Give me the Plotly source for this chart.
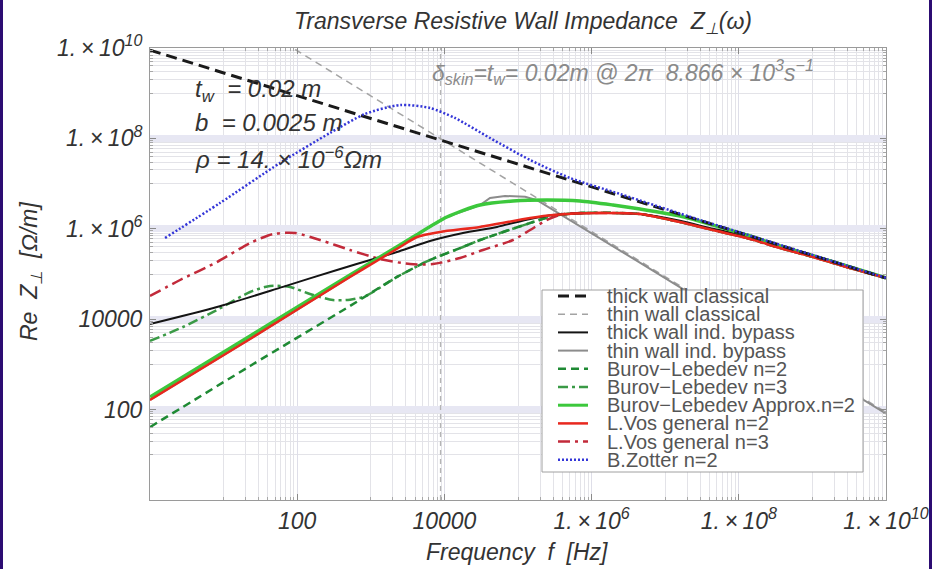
import plotly.graph_objects as go

# ---------------- data ----------------
skin_freq = 8866.0            # Hz, skin depth equals wall thickness
skin_line_z = [1.0, 1e10]

thick_classical_f = [1, 1e2, 1e4, 1e6, 1e8, 1e10]
thick_classical_z = [9.0e9, 8.8e8, 8.6e7, 8.4e6, 8.3e5, 8.1e4]

thin_classical_f = [10, 1e2, 1e4, 1e6, 1e8, 1e10]
thin_classical_z = [8.7e10, 8.7e9, 8.7e7, 8.7e5, 8.7e3, 87]

thick_bypass_f = [1, 8.13, 64, 347, 1214, 2270, 6373, 1.79e4, 5.19e4, 1.46e5, 2.99e5,
                  1.3e6, 4.55e6, 1.59e7, 4.46e7, 1.29e8, 3.63e8, 1.02e9, 3.24e9, 1e10]
thick_bypass_z = [7.8e3, 1.86e4, 5.2e4, 1.23e5, 2.26e5, 3.07e5, 5.37e5, 8.07e5, 1.10e6, 1.65e6, 2.02e6,
                  2.24e6, 2.12e6, 1.5e6, 1.0e6, 6.8e5, 4.2e5, 2.6e5, 1.47e5, 8.2e4]

thin_bypass_f = [1, 22.9, 521, 3742, 1.08e4, 3.05e4, 4.17e4, 6.66e4, 1.25e5, 1.81e5, 4.14e6, 1.42e8, 1e10]
thin_bypass_z = [163, 3.65e3, 8.6e4, 6.59e5, 1.82e6, 3.36e6, 4.8e6, 5.32e6, 5.1e6, 4.3e6, 1.95e5, 5.7e3, 81]

bl2_f = [1, 22.9, 521, 2270, 6373, 1.79e4, 3.05e4, 1.46e5, 2.99e5, 6.95e5, 4.55e6,
         1.59e7, 4.46e7, 1.29e8, 3.63e8, 1.02e9, 3.24e9, 1e10]
bl2_z = [41, 922, 1.96e4, 8.6e4, 2.04e5, 3.96e5, 5.65e5, 1.34e6, 1.92e6, 2.24e6, 2.12e6,
         1.41e6, 9.4e5, 6.26e5, 3.76e5, 2.38e5, 1.36e5, 8.2e4]

bl3_f = [1, 2.81, 8.13, 22.9, 42.7, 79.8, 149, 306, 521, 834, 2270, 6373, 1.79e4, 3.05e4,
         1.46e5, 2.99e5, 6.95e5, 4.55e6, 1.59e7, 4.46e7, 1.29e8, 3.63e8, 1.02e9, 3.24e9, 1e10]
bl3_z = [3.3e3, 6.72e3, 1.6e4, 4.0e4, 5.43e4, 5.16e4, 3.61e4, 2.66e4, 2.7e4, 3.2e4, 8.6e4, 2.04e5, 3.96e5, 5.65e5,
         1.34e6, 1.92e6, 2.24e6, 2.12e6, 1.41e6, 9.4e5, 6.26e5, 3.76e5, 2.38e5, 1.36e5, 8.2e4]

bl_approx_f = [1, 22.9, 521, 1334, 3742, 1.08e4, 3.05e4, 8.55e4, 2.48e5, 6.95e5, 1.95e6, 4.55e6,
               1.59e7, 4.46e7, 1.29e8, 3.63e8, 1.02e9, 3.24e9, 1e10]
bl_approx_z = [190, 4.25e3, 9.5e4, 2.38e5, 6.59e5, 1.82e6, 3.36e6, 4.12e6, 4.34e6, 4.12e6, 3.36e6, 2.74e6,
               1.92e6, 1.21e6, 7.29e5, 4.16e5, 2.5e5, 1.43e5, 8.2e4]

vos2_f = [1, 22.9, 521, 1334, 2494, 4244, 8710, 3.05e4, 1.46e5, 2.99e5, 1.3e6, 4.55e6,
          1.59e7, 4.46e7, 1.29e8, 3.63e8, 1.02e9, 3.24e9, 1e10]
vos2_z = [163, 3.65e3, 8.6e4, 2.15e5, 3.96e5, 6.59e5, 8.5e5, 1.10e6, 1.73e6, 2.02e6, 2.24e6, 2.12e6,
          1.41e6, 9.4e5, 6.26e5, 3.76e5, 2.38e5, 1.36e5, 8.2e4]

vos3_f = [1, 2.56, 8.13, 22.9, 46.9, 93.4, 204, 521, 1334, 3411, 7003, 1.63e4, 3.34e4, 8.55e4,
          1.46e5, 2.48e5, 4.09e5, 1.3e6, 4.55e6, 1.59e7, 4.46e7, 1.29e8, 3.63e8, 1.02e9, 3.24e9, 1e10]
vos3_z = [3.26e4, 7.37e4, 1.84e5, 4.85e5, 7.67e5, 8.07e5, 5.65e5, 3.4e5, 2.15e5, 1.66e5, 1.66e5, 2.26e5, 3.4e5, 5.65e5,
          9.4e5, 1.57e6, 2.12e6, 2.24e6, 2.12e6, 1.41e6, 9.4e5, 6.26e5, 3.76e5, 2.38e5, 1.36e5, 8.2e4]

zotter_f = [1.6, 8.93, 58.4, 279, 834, 2494, 6373, 1.39e4, 4.17e4, 1.46e5, 5.09e5, 2.43e6, 2.97e7, 6.79e8, 1e10]
zotter_z = [6.26e5, 3.72e6, 2.86e7, 1.32e8, 3.47e8, 5.48e8, 4.71e8, 2.83e8, 1.02e8, 3.33e7, 1.33e7, 5.9e6, 1.57e6, 3.23e5, 8.2e4]

tick_vals = [1e2, 1e4, 1e6, 1e8, 1e10]
tick_text = ["100", "10000", "1.\u2009\u00d7\u200910<sup>6</sup>",
             "1.\u2009\u00d7\u200910<sup>8</sup>", "1.\u2009\u00d7\u200910<sup>10</sup>"]
minor_grid_vals = [k * 10 ** n for n in (1, 3, 5, 7, 9) for k in range(1, 10)]

# ---------------- styling ----------------
FONT = "Liberation Sans, Arial, Helvetica, sans-serif"
W, H = 932, 569
L, R, T, B = 150, 886, 48, 500


def px_x(p):
    return (p - L) / (R - L)


def px_y(p):
    return (B - p) / (B - T)


# name, x, y, color, width, dash, shape  (draw order bottom -> top)
draw = [
    ("thin wall classical", thin_classical_f, thin_classical_z, "#a3a3a3", 1.5, "7px,5px", "linear"),
    ("thin wall ind. bypass", thin_bypass_f, thin_bypass_z, "#8c8c8c", 2.0, "solid", "linear"),
    ("Burov\u2212Lebedev n=3", bl3_f, bl3_z, "#3a9a46", 2.5, "10px,4px,3px,4px", "spline"),
    ("Burov\u2212Lebedev n=2", bl2_f, bl2_z, "#1f8a34", 2.5, "8px,5px", "spline"),
    ("L.Vos general n=3", vos3_f, vos3_z, "#c22a3a", 2.5, "12px,5px,3px,5px", "spline"),
    ("thick wall ind. bypass", thick_bypass_f, thick_bypass_z, "#141414", 2.0, "solid", "spline"),
    ("Burov\u2212Lebedev Approx.n=2", bl_approx_f, bl_approx_z, "#3cc83c", 3.5, "solid", "spline"),
    ("L.Vos general n=2", vos2_f, vos2_z, "#e8281e", 2.5, "solid", "spline"),
    ("thick wall classical", thick_classical_f, thick_classical_z, "#1a1a1a", 3.0, "11px,6px", "linear"),
    ("B.Zotter n=2", zotter_f, zotter_z, "#3436d8", 2.5, "2px,2px", "spline"),
]
style = {d[0]: d[3:6] for d in draw}
legend_order = ["thick wall classical", "thin wall classical", "thick wall ind. bypass",
                "thin wall ind. bypass", "Burov\u2212Lebedev n=2", "Burov\u2212Lebedev n=3",
                "Burov\u2212Lebedev Approx.n=2", "L.Vos general n=2", "L.Vos general n=3", "B.Zotter n=2"]

fig = go.Figure()
fig.add_trace(go.Scatter(x=[skin_freq, skin_freq], y=skin_line_z, mode="lines",
                         line=dict(color="#b4b4b4", width=1.3, dash="5px,4px"),
                         showlegend=False, hoverinfo="skip"))
for name, fx, fz, color, width, dash, shape in draw:
    line = dict(color=color, width=width, dash=dash, shape=shape)
    if shape == "spline":
        line["smoothing"] = 0.7
    fig.add_trace(go.Scatter(x=fx, y=fz, mode="lines", name=name, line=line,
                             showlegend=False, hoverinfo="skip"))

axis_common = dict(
    type="log", range=[0, 10], tickmode="array", tickvals=tick_vals, ticktext=tick_text,
    ticks="inside", ticklen=6, tickcolor="#8a8a8a", showline=True, linecolor="#9a9a9a",
    linewidth=1, mirror="ticks", zeroline=False, automargin=False,
    tickfont=dict(family=FONT, size=23, color="#333333", style="italic"),
    minor=dict(tickmode="array", tickvals=minor_grid_vals, ticks="inside", ticklen=3,
               tickcolor="#a8a8a8", showgrid=True, gridcolor="#e3e3e8", gridwidth=1),
)
fig.update_xaxes(**axis_common, showgrid=True, gridcolor="#dedee8", gridwidth=1, ticklabelstandoff=0)
fig.update_yaxes(**axis_common, showgrid=True, gridcolor="#e7e7f3", gridwidth=7, ticklabelstandoff=2)

ann = []
txt_font = dict(family=FONT, color="#333333", style="italic")
ann.append(dict(text="Transverse Resistive Wall Impedance  Z<sub>\u22a5</sub>(\u03c9)",
                x=px_x(523), y=px_y(22), xanchor="center", font=dict(**txt_font, size=23)))
ann.append(dict(text="Frequency  <i>f</i>  [Hz]", x=px_x(517), y=px_y(552), xanchor="center",
                font=dict(**txt_font, size=23)))
ann.append(dict(text="Re  Z<sub>\u22a5</sub>  [\u03a9/m]", x=px_x(30), y=px_y(272), textangle=-90,
                xanchor="center", font=dict(**txt_font, size=23)))
ann.append(dict(text="t<sub>w</sub>  = 0.02 m", x=px_x(193), y=px_y(90), xanchor="left",
                font=dict(**txt_font, size=24)))
ann.append(dict(text="b  = 0.0025 m", x=px_x(193), y=px_y(122), xanchor="left",
                font=dict(**txt_font, size=24)))
ann.append(dict(text="\u03c1 = 14. \u00d7 10<sup>\u22126</sup>\u03a9m", x=px_x(193), y=px_y(158),
                xanchor="left", font=dict(**txt_font, size=24)))
ann.append(dict(text="\u03b4<sub>skin</sub>=t<sub>w</sub>= 0.02m @ 2\u03c0  8.866 \u00d7 10<sup>3</sup>s<sup>\u22121</sup>",
                x=px_x(430), y=px_y(72), xanchor="left",
                font=dict(family=FONT, color="#8a8a8a", style="italic", size=23)))

shapes = []
# legend box
shapes.append(dict(type="rect", xref="paper", yref="paper", layer="above",
                   x0=px_x(542), x1=px_x(863), y0=px_y(472), y1=px_y(290),
                   fillcolor="white", line=dict(color="#a0a0a0", width=1)))
row0, dy = 296, 18.2
for i, name in enumerate(legend_order):
    color, width, dash = style[name]
    yy = px_y(row0 + i * dy)
    shapes.append(dict(type="line", xref="paper", yref="paper", layer="above",
                       x0=px_x(558), x1=px_x(588), y0=yy, y1=yy,
                       line=dict(color=color, width=min(width, 3), dash=dash)))
    ann.append(dict(text=name, x=px_x(605), y=yy, xanchor="left",
                    font=dict(family=FONT, size=20, color="#555555")))
# slide border
shapes.append(dict(type="rect", xref="paper", yref="paper", layer="above",
                   x0=px_x(0), x1=px_x(3), y0=px_y(H), y1=px_y(0),
                   fillcolor="#2c0c72", line=dict(width=0)))
shapes.append(dict(type="rect", xref="paper", yref="paper", layer="above",
                   x0=px_x(929), x1=px_x(932), y0=px_y(H), y1=px_y(0),
                   fillcolor="#2c0c72", line=dict(width=0)))

for a in ann:
    a.setdefault("xref", "paper")
    a.setdefault("yref", "paper")
    a.setdefault("showarrow", False)
    a.setdefault("yanchor", "middle")

fig.update_layout(
    width=W, height=H, autosize=False,
    margin=dict(l=L, r=W - R, t=T, b=H - B, pad=0, autoexpand=False),
    paper_bgcolor="white", plot_bgcolor="white",
    annotations=ann, shapes=shapes, showlegend=False,
)
fig.write_html(
    "out.html",
    config={"displayModeBar": False, "responsive": False, "staticPlot": True},
    post_script=("document.documentElement.style.margin='0';document.body.style.margin='0';"
                 "document.body.style.overflow='hidden';document.documentElement.style.overflow='hidden';"),
)
